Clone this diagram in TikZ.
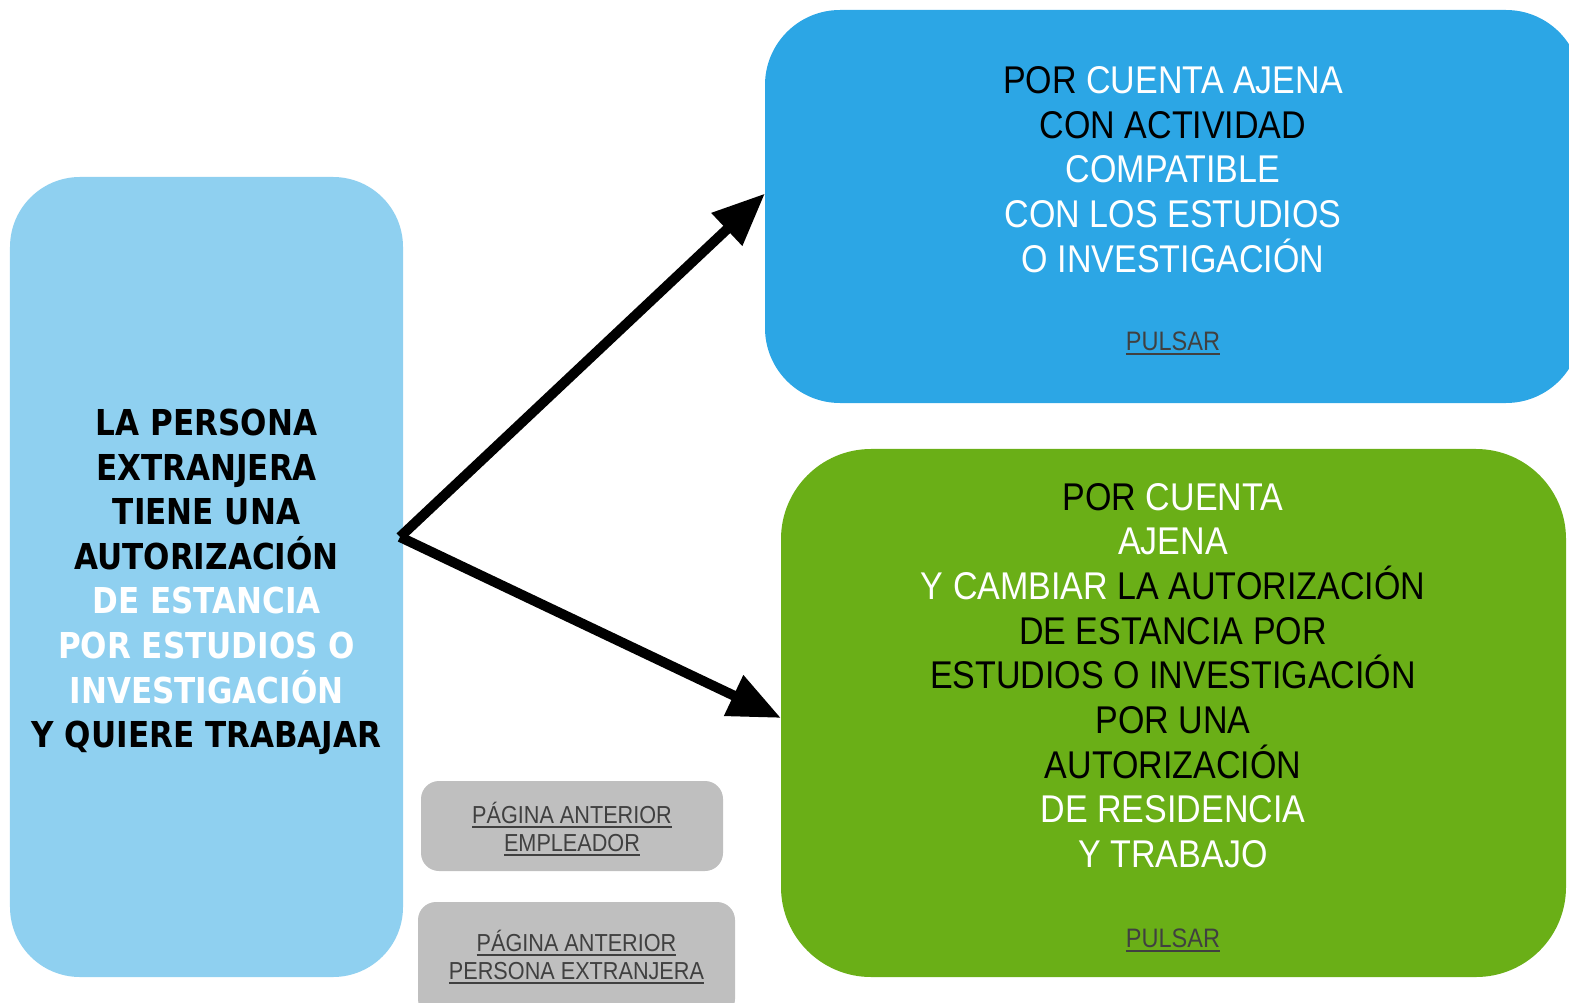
\documentclass[tikz,border=0pt]{standalone}
\usepackage{fontspec}
\usetikzlibrary{arrows.meta}
\newfontfamily\boxbold[FakeStretch=0.87]{DejaVu Sans}
\newfontfamily\narrowsans[FakeStretch=0.88]{Liberation Sans}
\definecolor{paleblue}{HTML}{8FD0F0}
\definecolor{skyblue}{HTML}{2CA6E5}
\definecolor{leafgreen}{HTML}{6AAF17}
\definecolor{btngray}{HTML}{BFBFBF}
\definecolor{linkgray}{HTML}{404040}
\newcommand\lnk[1]{\setbox0\hbox{#1}\rlap{\rule[-2.8pt]{\wd0}{1.1pt}}\box0}
\tikzset{
  panel/.style={inner sep=0pt, outer sep=0pt, rounded corners=#1},
  boldtext/.style={align=center, inner sep=0pt, font={\boxbold\bfseries\fontsize{20.3}{25.4}\selectfont}},
  narrowtext/.style={align=center, inner sep=0pt, font={\narrowsans\fontsize{22}{25.4}\selectfont}},
  linktext/.style={align=center, inner sep=0pt, text=linkgray, font={\narrowsans\fontsize{14}{15.9}\selectfont}},
  pulsar/.style={anchor=base, inner sep=0pt, text=linkgray, font={\narrowsans\fontsize{15.2}{17}\selectfont}},
  fat arrow/.style={line width=2mm, -{Triangle[length=10.5mm, width=8.5mm]}}
}
\begin{document}
\begin{tikzpicture}[x=0.2mm, y=-0.2mm]
\useasboundingbox (0,0) rectangle (1569,1003);
% boxes
\node[panel=14mm, fill=paleblue, minimum width=78.6mm, minimum height=160mm] (left) at (206.5,577) {};
\node[panel=15mm, fill=skyblue, minimum width=163.2mm, minimum height=78.6mm] (blue) at (1173,206.5) {};
\node[panel=18mm, fill=leafgreen, minimum width=157mm, minimum height=105.6mm] (green) at (1173.5,713) {};
\node[panel=3.6mm, fill=btngray, minimum width=60.4mm, minimum height=18mm] (back1) at (572,826) {};
\node[panel=3.6mm, fill=btngray, minimum width=63.4mm, minimum height=23mm] (back2) at (576.5,959.5) {};
% texts
\node[boldtext] (leftText) at (206.5,582) {LA PERSONA\\ EXTRANJERA\\ TIENE UNA\\ AUTORIZACIÓN\\
  \textcolor{white}{DE ESTANCIA}\\ \textcolor{white}{POR ESTUDIOS O}\\ \textcolor{white}{INVESTIGACIÓN}\\ Y QUIERE TRABAJAR};
\node[narrowtext] (blueText) at (1173,169.6) {POR \textcolor{white}{CUENTA AJENA}\\ CON ACTIVIDAD\\
  \textcolor{white}{COMPATIBLE}\\ \textcolor{white}{CON LOS ESTUDIOS}\\ \textcolor{white}{O INVESTIGACIÓN}};
\node[pulsar] (bluePulsar) at (1173,350) {\lnk{PULSAR}};
\node[narrowtext] (greenText) at (1173,675.5) {POR \textcolor{white}{CUENTA}\\ \textcolor{white}{AJENA}\\
  \textcolor{white}{Y CAMBIAR} LA AUTORIZACIÓN\\ DE ESTANCIA POR\\ ESTUDIOS O INVESTIGACIÓN\\ POR UNA\\ AUTORIZACIÓN\\
  \textcolor{white}{DE RESIDENCIA}\\ \textcolor{white}{Y TRABAJO}};
\node[pulsar] (greenPulsar) at (1173,947) {\lnk{PULSAR}};
\node[linktext] (back1Text) at (572,829) {\lnk{PÁGINA ANTERIOR}\\ \lnk{EMPLEADOR}};
\node[linktext] (back2Text) at (576.5,957) {\lnk{PÁGINA ANTERIOR}\\ \lnk{PERSONA EXTRANJERA}};
% arrows
\coordinate (fork) at ([shift={(-3,-40)}]left.east);
\draw[fat arrow] (fork) -- ([shift={(0,-13)}]blue.west);
\draw[fat arrow] (fork) -- ([shift={(0,5)}]green.west);
\end{tikzpicture}
\end{document}
